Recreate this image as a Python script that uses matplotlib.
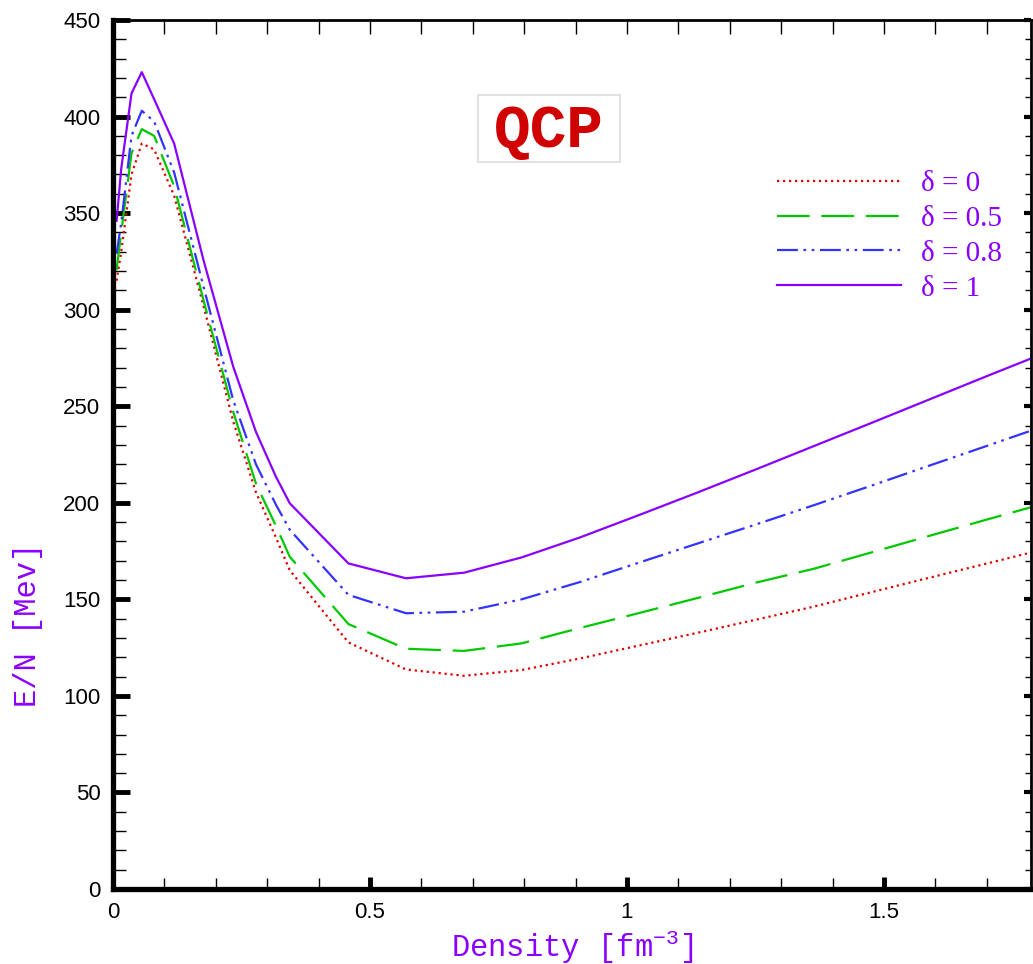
import matplotlib
matplotlib.use('Agg')
import matplotlib.pyplot as plt
from matplotlib.patches import Rectangle
from matplotlib.ticker import MultipleLocator

# density grid [fm^-3]
density = [0.007, 0.016, 0.036, 0.056, 0.08, 0.119, 0.176, 0.234, 0.278, 0.317,
           0.344, 0.458, 0.570, 0.683, 0.795, 0.909, 1.022, 1.136, 1.25, 1.363,
           1.477, 1.59, 1.704, 1.817]

# E/N [MeV] for each asymmetry delta
en_d0 = [315, 330, 370, 386, 383, 359, 302, 242, 205.5, 182, 165, 127.7, 113.7,
         110.4, 113.4, 119.4, 126, 132.6, 139.4, 146.2, 153.8, 161.3, 168.8, 176.3]
en_d05 = [320.5, 340, 381, 393.5, 390, 364, 305, 247, 210, 188, 172, 137.2, 124.4,
          123.3, 127.2, 135.2, 142.8, 150.6, 158.6, 165.8, 174.4, 183, 191.6, 200]
en_d08 = [329, 345, 390, 403, 397.5, 371, 312, 253, 220, 199, 186, 152.3, 142.8,
          143.6, 150, 159, 168.9, 178.8, 188.7, 198.7, 209, 219.4, 229.8, 240.2]
en_d1 = [346, 373, 412, 423, 409, 386, 325.7, 270.4, 236.8, 213.5, 199.7, 168.6,
         160.9, 163.8, 171.7, 182.1, 193.5, 205.2, 217.2, 229.3, 241.5, 253.7, 266, 278]

labels = ['δ = 0', 'δ = 0.5', 'δ = 0.8', 'δ = 1']

purple = '#8a00ff'

plt.rcParams['mathtext.fontset'] = 'custom'
plt.rcParams['mathtext.rm'] = 'Liberation Mono'
plt.rcParams['mathtext.it'] = 'Liberation Mono'

fig = plt.figure(figsize=(10.33, 9.64), dpi=100)
ax = fig.add_axes([113 / 1033, 75 / 964, 918 / 1033, 869 / 964])

lw = 1.6
ax.plot(density, en_d0, color='#e00000', lw=lw, linestyle=(0, (1, 1.7)), label=labels[0])
ax.plot(density, en_d05, color='#00c800', lw=lw, linestyle=(0, (14.7, 5.3)), label=labels[1])
ax.plot(density, en_d08, color='#3333ff', lw=lw,
        linestyle=(0, (9.4, 2.5, 1.2, 2.5, 1.2, 2.5)), label=labels[2])
ax.plot(density, en_d1, color=purple, lw=lw, linestyle='-', label=labels[3])

ax.set_xlim(0, 1.786)
ax.set_ylim(0, 450)

ax.xaxis.set_major_locator(MultipleLocator(0.5))
ax.xaxis.set_minor_locator(MultipleLocator(0.1))
ax.yaxis.set_major_locator(MultipleLocator(50))
ax.yaxis.set_minor_locator(MultipleLocator(10))
ax.xaxis.set_major_formatter(plt.FuncFormatter(lambda v, p: '%g' % v))

ax.tick_params(which='major', direction='in', length=12, width=3.5, pad=9,
               labelsize=16, top=False, right=False)
ax.tick_params(which='minor', direction='in', length=9, width=1,
               top=False, right=False)
ax.tick_params(axis='x', which='major', length=9, pad=9)
ax.tick_params(axis='x', which='minor', length=8)
for t in ax.get_xticklabels() + ax.get_yticklabels():
    t.set_fontfamily('Liberation Sans')

ax.spines['left'].set_linewidth(3.8)
ax.spines['bottom'].set_linewidth(3.8)
ax.spines['top'].set_linewidth(2)
ax.spines['right'].set_linewidth(2)

# thinner ticks on the top and right sides
top = ax.secondary_xaxis('top')
top.xaxis.set_major_locator(MultipleLocator(0.1))
top.tick_params(direction='in', length=10, width=1, labeltop=False)
top.spines['top'].set_visible(False)
right = ax.secondary_yaxis('right')
right.yaxis.set_major_locator(MultipleLocator(50))
right.yaxis.set_minor_locator(MultipleLocator(10))
right.tick_params(which='major', direction='in', length=5, width=3, labelright=False)
right.tick_params(which='minor', direction='in', length=4, width=1)
right.spines['right'].set_visible(False)

ax.set_xlabel('Density [fm$^{-3}$]', fontsize=22, family='Liberation Mono',
              color=purple, labelpad=4)
ax.set_ylabel('E/N [Mev]', fontsize=22, family='Liberation Mono', color=purple)
ax.yaxis.set_label_coords(-0.0758, 0.304)

# QCP label box
ax.add_patch(Rectangle((0.3976, 0.8366), 0.1547, 0.0771, transform=ax.transAxes,
                       fc='white', ec='#dddddd', lw=1.2, zorder=3))
ax.text(0.475, 0.872, 'QCP', transform=ax.transAxes, ha='center', va='center',
        fontsize=44, family='Liberation Mono', fontweight='bold', color='#d00000',
        zorder=4)

leg = ax.legend(loc='upper right', bbox_to_anchor=(0.997, 0.857), frameon=False,
                prop={'family': 'Liberation Serif', 'size': 21},
                handlelength=4.25, handletextpad=0.7, labelspacing=0.29)
for t in leg.get_texts():
    t.set_color(purple)

fig.savefig('out.png', dpi=100)
